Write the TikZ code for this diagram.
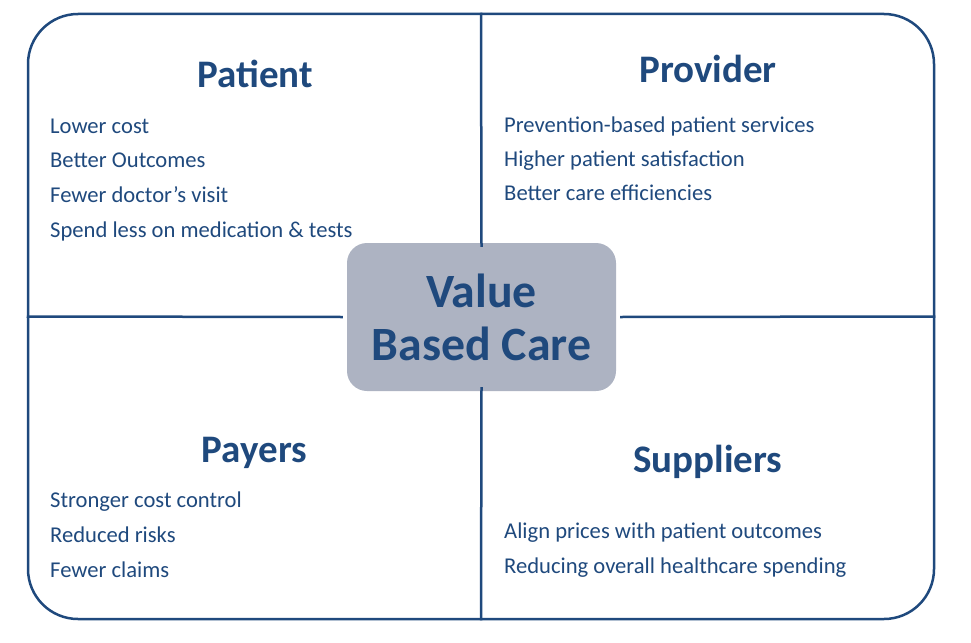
\documentclass[tikz,border=0pt]{standalone}
\usepackage{fontspec}
\setmainfont{Carlito}
\usetikzlibrary{calc}
\definecolor{navy}{HTML}{1F497D}
\definecolor{slate}{HTML}{ADB3C2}

\begin{document}
\begin{tikzpicture}[x=1pt,y=-1pt,
    head/.style={anchor=base,text=navy,inner sep=0pt,font=\fontsize{39}{42}\selectfont\bfseries},
    item/.style={anchor=base west,text=navy,inner sep=0pt,font=\fontsize{22.6}{26}\selectfont},
    rule/.style={draw=navy,line width=2.5pt}]
    \useasboundingbox (0,0) rectangle (971,642);
    \node[rule,rounded corners=50pt,minimum width=906pt,minimum height=605pt,inner sep=0pt] (frame) at (481,316.5) {};
    \node[fill=slate,rounded corners=20pt,minimum width=269pt,minimum height=148pt,inner sep=0pt,
      align=center,text=navy,font=\fontsize{47.8}{53}\selectfont\bfseries] (core) at (481.5,317) {Value\\Based Care};
    \draw[rule] (frame.north) -- ($(core.north)+(0,4)$);
    \draw[rule] (frame.south) -- ($(core.south)+(0,-4)$);
    \draw[rule] (frame.west) -- ($(core.west)+(-4,0)$);
    \draw[rule] (frame.east) -- ($(core.east)+(4,0)$);
    % quadrant titles
    \node[head] (patient) at (255,87) {Patient};
    \node[head] (provider) at (708,82) {Provider};
    \node[head] (payers) at (254.5,462) {Payers};
    \node[head] (suppliers) at (708,472) {Suppliers};
    % quadrant lists
    \foreach \txt [count=\i] in {Lower cost,Better Outcomes,Fewer doctor’s visit,Spend less on medication \& tests}
      \node[item] (patient-\i) at (50,98.3+34.7*\i) {\txt};
    \foreach \txt [count=\i] in {Prevention-based patient services,Higher patient satisfaction,Better care efficiencies}
      \node[item] (provider-\i) at (504,98+34*\i) {\txt};
    \foreach \txt [count=\i] in {Stronger cost control,Reduced risks,Fewer claims}
      \node[item] (payers-\i) at (50,472+35*\i) {\txt};
    \foreach \txt [count=\i] in {Align prices with patient outcomes,Reducing overall healthcare spending}
      \node[item] (suppliers-\i) at (504,503+35*\i) {\txt};
\end{tikzpicture}
\end{document}
